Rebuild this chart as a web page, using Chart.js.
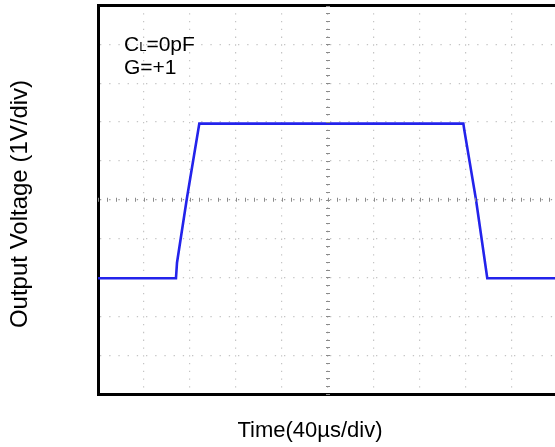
<!DOCTYPE html>
<html>
<head>
<meta charset="utf-8">
<script src="https://cdn.jsdelivr.net/npm/chart.js@4"></script>
<style>
html,body{margin:0;padding:0;background:#fff;}
#clip{width:555px;height:447px;overflow:hidden;position:relative;}
canvas{display:block;}
</style>
</head>
<body>
<div id="clip"><canvas id="c" width="562" height="447"></canvas></div>
<script>
// Data (time in µs, 40 µs/div; voltage in V, 1 V/div)
const timeUs  = [0, 67.8, 68.7, 77.1, 88.1, 317.7, 318.5, 328.7, 338.5, 400];
const voltage = [-2.02, -2.02, -1.62, 0, 1.96, 1.96, 1.8, 0, -2.02, -2.02];
const xTicks = [0, 40, 80, 120, 160, 200, 240, 280, 320, 360, 400];
const yTicks = [-5, -4, -3, -2, -1, 0, 1, 2, 3, 4, 5];
const xTitle = 'Time(40µs/div)';
const yTitle = 'Output Voltage (1V/div)';
const noteMain = 'C';
const noteSub = 'L';
const noteRest = '=0pF';
const noteLine2 = 'G=+1';

const FONT = '"Liberation Sans", Arial, sans-serif';

const scopePlugin = {
  id: 'scope',
  afterDraw(chart) {
    const ctx = chart.ctx;
    const xs = chart.scales.x, ys = chart.scales.y;
    const cx = xs.getPixelForValue(200), cy = ys.getPixelForValue(0);
    ctx.save();
    // minor ticks on center lines
    ctx.strokeStyle = '#8a8a8a';
    ctx.lineWidth = 1;
    ctx.beginPath();
    for (let i = 0; i <= 50; i++) {
      const x = Math.round(xs.getPixelForValue(i * 8)) + 0.5;
      ctx.moveTo(x, cy - 2); ctx.lineTo(x, cy + 2);
      const y = Math.round(ys.getPixelForValue(-5 + i * 0.2)) + 0.5;
      ctx.moveTo(cx - 2, y); ctx.lineTo(cx + 2, y);
    }
    ctx.stroke();
    ctx.restore();
    // texts
    ctx.save();
    ctx.fillStyle = '#000';
    ctx.textBaseline = 'alphabetic';
    ctx.textAlign = 'left';
    ctx.font = '21px ' + FONT;
    let x = 124;
    ctx.fillText(noteMain, x, 51);
    x += ctx.measureText(noteMain).width;
    ctx.font = '13px ' + FONT;
    ctx.fillText(noteSub, x, 51);
    x += ctx.measureText(noteSub).width;
    ctx.font = '21px ' + FONT;
    ctx.fillText(noteRest, x, 51);
    ctx.fillText(noteLine2, 124, 74);
    // x title
    ctx.font = '22px ' + FONT;
    ctx.textAlign = 'center';
    ctx.fillText(xTitle, 310, 437);
    // y title
    ctx.translate(27, 204);
    ctx.rotate(-Math.PI / 2);
    ctx.font = '24px ' + FONT;
    ctx.fillText(yTitle, 0, 0);
    ctx.restore();
  }
};

new Chart(document.getElementById('c'), {
  type: 'line',
  data: {
    datasets: [{
      data: timeUs.map((t, i) => ({x: t, y: voltage[i]})),
      borderColor: 'rgb(35,35,235)',
      borderWidth: 2.6,
      pointRadius: 0,
      tension: 0,
      fill: false
    }]
  },
  options: {
    responsive: false,
    animation: false,
    events: [],
    layout: {padding: {left: 98, right: 4, top: 5.5, bottom: 53}},
    plugins: {legend: {display: false}, tooltip: {enabled: false}},
    scales: {
      x: {
        type: 'linear', min: 0, max: 400, position: 'bottom',
        afterBuildTicks: s => { s.ticks = xTicks.map(v => ({value: v})); },
        ticks: {display: false},
        grid: {
          drawTicks: false,
          color: c => (c.tick && c.tick.value === 200) ? '#9a9a9a' : '#c4c4c4',
          lineWidth: 1.2
        },
        border: {display: true, color: '#000', width: 3, dash: [1.3, 6.47]}
      },
      xTop: {
        type: 'linear', min: 0, max: 400, position: 'top',
        ticks: {display: false},
        grid: {display: false, drawTicks: false},
        border: {display: true, color: '#000', width: 3}
      },
      y: {
        type: 'linear', min: -5, max: 5,
        afterBuildTicks: s => { s.ticks = yTicks.map(v => ({value: v})); },
        ticks: {display: false},
        grid: {
          drawTicks: false,
          color: c => (c.tick && c.tick.value === 0) ? '#9a9a9a' : '#c4c4c4',
          lineWidth: 1.2
        },
        border: {display: true, color: '#000', width: 3, dash: [1.3, 7.9]}
      }
    }
  },
  plugins: [scopePlugin]
});
</script>
</body>
</html>
